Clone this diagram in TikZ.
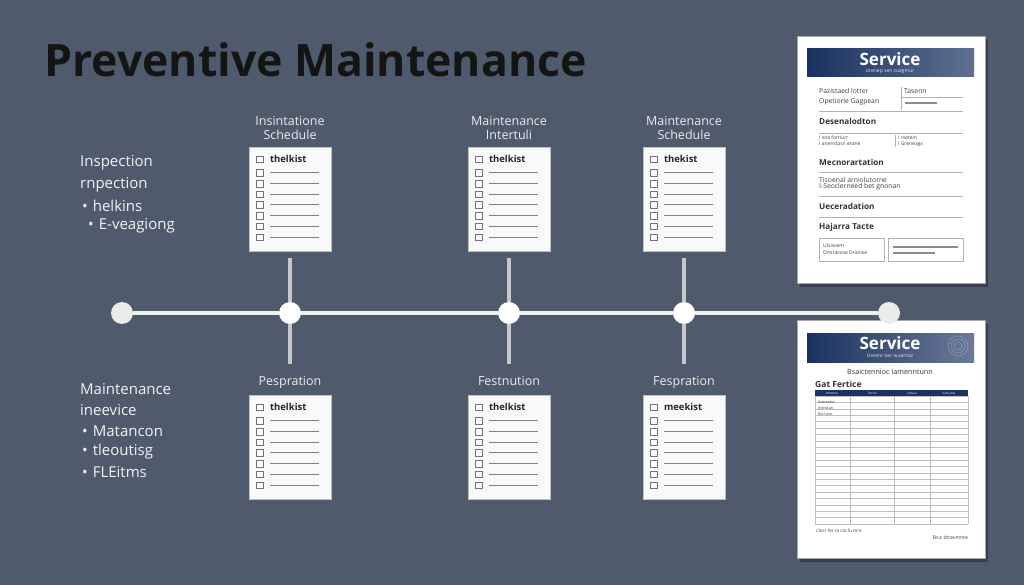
\documentclass[tikz,border=0pt]{standalone}
\usepackage{fontspec}
\setmainfont{Open Sans}
\usetikzlibrary{calc,positioning}

\definecolor{slate}{RGB}{79,91,109}
\definecolor{navy}{RGB}{26,50,96}
\definecolor{paper}{RGB}{249,249,249}
\definecolor{stem}{RGB}{196,200,206}
\definecolor{ink}{RGB}{60,64,70}

\begin{document}
\begin{tikzpicture}[x=1pt,y=-1pt,
  dot/.style={circle,fill=white,minimum size=22pt,inner sep=0pt},
  enddot/.style={dot,fill=black!8},
  track/.style={draw=white!94!black,line width=4pt},
  stemline/.style={draw=stem,line width=4pt},
  card/.style={rectangle,fill=paper,draw=black!25,minimum width=82pt,minimum height=104pt,inner sep=0pt},
  cardlbl/.style={text=white!92!black,font=\fontsize{12.5}{14}\selectfont,align=center,inner sep=0pt},
  steplbl/.style={cardlbl,text height=9pt,text depth=3pt},
  chkhead/.style={anchor=west,inner sep=0pt,font=\fontsize{9.5}{11}\selectfont\bfseries,text=black!85},
  tickbox/.style={draw=black!55,line width=0.8pt},
  rowline/.style={draw=black!50,line width=1.3pt},
  sidetxt/.style={anchor=west,inner sep=0pt,text=white!95!black,font=\fontsize{15}{18}\selectfont},
  small/.style={anchor=west,inner sep=0pt,text=ink,font=\fontsize{6.8}{7}\selectfont},
  tiny/.style={anchor=west,inner sep=0pt,text=ink,font=\fontsize{5}{5.5}\selectfont},
  dochead/.style={anchor=west,inner sep=0pt,text=black!80,font=\fontsize{8.2}{9}\selectfont\bfseries},
  docrule/.style={draw=black!30,line width=0.6pt}]

\useasboundingbox (0,0) rectangle (1024,585);
\fill[slate] (0,0) rectangle (1024,585);

\node[anchor=base west,inner sep=0pt,font=\fontsize{44.6}{50}\selectfont\bfseries,text=black!92] (title) at (44,77) {Preventive Maintenance};

% timeline
\node[enddot] (t0) at (122,313) {};
\node[dot] (t1) at (290,313) {};
\node[dot] (t2) at (509,313) {};
\node[dot] (t3) at (684,313) {};
\draw[track] (t0) -- (t1);
\draw[track] (t1) -- (t2);
\draw[track] (t2) -- (t3);

% checklist cards
\foreach \nm/\x/\y/\w in {ca/290/199/thelkist,cb/509/199/thelkist,cc/684/199/thekist,
                          cd/290/447/thelkist,ce/509/447/thelkist,cf/684/447/meekist} {
  \node[card] (\nm) at (\x,\y) {};
  \draw[tickbox] ($(\nm.north west)+(8,9.3)$) rectangle +(6.5,6.5);
  \node[chkhead] at ($(\nm.north west)+(21,12.5)$) {\w};
  \foreach \r in {26,37,47.5,58,69,79.5,90.5} {
    \draw[tickbox] ($(\nm.north west)+(8,\r-3.2)$) rectangle +(6.5,6.5);
    \draw[rowline] ($(\nm.north west)+(21,\r)$) -- +(49,0);
  }
}

\node[cardlbl,above=7pt of ca] (la) {Insintatione\\Schedule};
\node[cardlbl,above=7pt of cb] (lb) {Maintenance\\Intertuli};
\node[cardlbl,above=7pt of cc] (lc) {Maintenance\\Schedule};
\node[steplbl,above=6pt of cd] (ld) {Pespration};
\node[steplbl,above=6pt of ce] (le) {Festnution};
\node[steplbl,above=6pt of cf] (lf) {Fespration};

\draw[stemline,shorten <=7pt] (ca) -- (t1);
\draw[stemline,shorten <=7pt] (cb) -- (t2);
\draw[stemline,shorten <=7pt] (cc) -- (t3);
\draw[stemline,shorten >=12pt] (t1) -- (ld);
\draw[stemline,shorten >=12pt] (t2) -- (le);
\draw[stemline,shorten >=12pt] (t3) -- (lf);

% side notes
\node[sidetxt] (s1) at (80,163) {Inspection};
\node[sidetxt] (s2) at (80,185) {rnpection};
\node[sidetxt] (s3) at (82,206) {\textbullet\hspace{5pt}helkins};
\node[sidetxt] (s4) at (88,226) {\textbullet\hspace{5pt}E-veagiong};
\node[sidetxt] (s5) at (80,389) {Maintenance};
\node[sidetxt] (s6) at (80,410) {ineevice};
\node[sidetxt] (s7) at (82,431) {\textbullet\hspace{5pt}Matancon};
\node[sidetxt] (s8) at (82,452) {\textbullet\hspace{5pt}tleoutisg};
\node[sidetxt] (s9) at (82,472) {\textbullet\hspace{5pt}FLEitms};

% service report (top)
\fill[black,opacity=.3] (800,40) rectangle (988,287);
\filldraw[fill=white,draw=black!35] (797,36) rectangle (985,283);
\shade[left color=navy,right color=navy!70!white] (807,49) rectangle (974,77);
\node[inner sep=0pt,text=white,font=\fontsize{17}{18}\selectfont\bfseries] at (890,59) {Service};
\node[inner sep=0pt,text=white!85!navy,font=\fontsize{5}{5}\selectfont] at (890,71) {Urenep sen suegmur};
\node[small] at (819,91) {Pazistaed lotter};
\node[small] at (904,91) {Tasenn};
\node[small] at (819,102) {Opetiorle Gagpean};
\draw[draw=black!45,line width=1.2pt] (905,103) -- (937,103);
\draw[docrule] (901,87) -- (901,110);
\draw[docrule] (901,97) -- (963,97);
\draw[docrule] (819,111) -- (963,111);
\node[dochead] at (819,121) {Desenalodton};
\draw[docrule] (819,133) -- (963,133);
\node[tiny] at (819,138) {I sne fortiurr};
\node[tiny] at (819,144) {I anenslpsn erane};
\draw[docrule] (895,135) -- (895,147);
\node[tiny] at (898,138) {l rsetein};
\node[tiny] at (898,144) {l Greneags};
\node[dochead] at (819,162) {Mecnorartation};
\draw[docrule] (819,172) -- (963,172);
\node[small] at (819,180) {Tisoenal arniolutorne};
\node[small] at (819,187) {I-Seoclerneed bet gnonan};
\draw[docrule] (819,196) -- (963,196);
\node[dochead] at (819,206) {Ueceradation};
\draw[docrule] (819,217) -- (963,217);
\node[dochead] at (819,227) {Hajarra Tacte};
\draw[docrule] (819,238) rectangle (884,261);
\node[tiny] at (823,246) {Ulsisvem};
\node[tiny] at (823,253) {Onsracose Dnonse};
\draw[docrule] (888,238) rectangle (963,261);
\draw[draw=black!45,line width=1.4pt] (893,247) -- (958,247);
\draw[draw=black!45,line width=1.4pt] (893,253) -- (935,253);

% service log (bottom)
\fill[black,opacity=.3] (800,324) rectangle (988,562);
\filldraw[fill=white,draw=black!35] (797,320) rectangle (985,558);
\shade[left color=navy,right color=navy!65!white] (807,333) rectangle (974,362);
\foreach \rr in {4,7,10} {
  \draw[white,opacity=.25,line width=0.6pt] (958,346) circle (\rr);
}
\node[inner sep=0pt,text=white,font=\fontsize{17}{18}\selectfont\bfseries] at (890,343) {Service};
\node[inner sep=0pt,text=white!85!navy,font=\fontsize{5}{5}\selectfont] at (890,356) {Ureenr oer wuemaz};
\node[inner sep=0pt,text=black!80,font=\fontsize{7.2}{8}\selectfont] at (890,372) {Bsaictennioc Iamenntunn};
\node[dochead,font=\fontsize{8.5}{9}\selectfont\bfseries] at (815,384) {Gat Fertice};
\fill[navy] (815,390) rectangle (968,396);
\foreach \cx/\ct in {832/Wnimen,872/Tlcrvie,912/Smvoe,949/Saln anw} {
  \node[inner sep=0pt,text=white,font=\fontsize{3}{3}\selectfont] at (\cx,393) {\ct};
}
\foreach \r in {0,...,20} {
  \draw[draw=black!25,line width=0.4pt] (815,396+\r*6.4) -- (968,396+\r*6.4);
}
\foreach \cx in {815,850,894,930,968} {
  \draw[draw=black!25,line width=0.4pt] (\cx,396) -- (\cx,524);
}
\node[tiny,font=\fontsize{3.8}{4}\selectfont] at (818,402) {Vcerorew};
\node[tiny,font=\fontsize{3.8}{4}\selectfont] at (818,408) {Jnenisan};
\node[tiny,font=\fontsize{3.8}{4}\selectfont] at (818,414) {Bctl ann};
\node[tiny,font=\fontsize{4.5}{5}\selectfont] at (816,531) {Clecr fer to cat fu mnt};
\node[tiny,anchor=east] at (968,538) {Bsic dtrevmnte};

\node[enddot] (t4) at (889,313) {};
\draw[track] (t3) -- (t4);

\end{tikzpicture}
\end{document}
